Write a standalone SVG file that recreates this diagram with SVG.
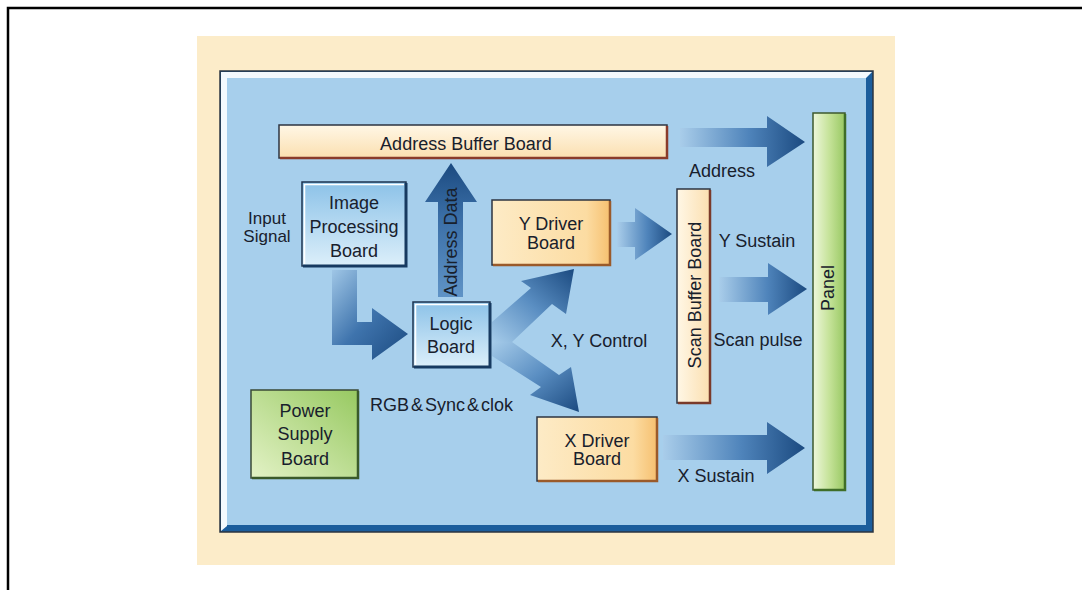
<svg xmlns="http://www.w3.org/2000/svg" width="1082" height="590" viewBox="0 0 1082 590">
<defs>
<style>
text{font-family:"Liberation Sans",Arial,sans-serif;font-size:18px;fill:#18202c;text-anchor:middle}
</style>
<linearGradient id="gH" x1="0" y1="0" x2="1" y2="0">
<stop offset="0" stop-color="#a9cdea"/><stop offset="0.55" stop-color="#4f84bb"/><stop offset="1" stop-color="#1b4a80"/>
</linearGradient>
<linearGradient id="gV" x1="0" y1="1" x2="0" y2="0">
<stop offset="0" stop-color="#5f93c6"/><stop offset="0.6" stop-color="#3a6ea6"/><stop offset="1" stop-color="#1b4a80"/>
</linearGradient>
<linearGradient id="gL" x1="0" y1="0" x2="1" y2="1">
<stop offset="0" stop-color="#9fc6e6"/><stop offset="0.5" stop-color="#3f74ad"/><stop offset="1" stop-color="#1b4a80"/>
</linearGradient>
<linearGradient id="gUp" x1="0" y1="1" x2="1" y2="0">
<stop offset="0" stop-color="#a5cbe9"/><stop offset="0.5" stop-color="#5a8ec2"/><stop offset="1" stop-color="#1b4a80"/>
</linearGradient>
<linearGradient id="gDn" x1="0" y1="0" x2="1" y2="1">
<stop offset="0" stop-color="#a5cbe9"/><stop offset="0.5" stop-color="#5a8ec2"/><stop offset="1" stop-color="#1b4a80"/>
</linearGradient>
<linearGradient id="gBlueBox" x1="0" y1="0" x2="0" y2="1">
<stop offset="0" stop-color="#8cc2e8"/><stop offset="1" stop-color="#dcefFA"/>
</linearGradient>
<linearGradient id="gCream" x1="0" y1="0" x2="0" y2="1">
<stop offset="0" stop-color="#fff7e6"/><stop offset="1" stop-color="#fbdfb0"/>
</linearGradient>
<linearGradient id="gCreamV" x1="0" y1="0" x2="1" y2="0">
<stop offset="0" stop-color="#fff7e6"/><stop offset="1" stop-color="#fbdfb0"/>
</linearGradient>
<linearGradient id="gOrange" x1="0" y1="0" x2="1" y2="0">
<stop offset="0" stop-color="#fdebc6"/><stop offset="0.8" stop-color="#fcdca2"/><stop offset="1" stop-color="#f6c070"/>
</linearGradient>
<linearGradient id="gGreen" x1="0" y1="1" x2="1" y2="0">
<stop offset="0" stop-color="#e3f2c6"/><stop offset="1" stop-color="#97c961"/>
</linearGradient>
<linearGradient id="gPanel" x1="0" y1="0" x2="1" y2="0">
<stop offset="0" stop-color="#eef7dc"/><stop offset="0.5" stop-color="#c6e39a"/><stop offset="1" stop-color="#98c862"/>
</linearGradient>
</defs>

<!-- frame -->
<path d="M8 590 V8 H1082" fill="none" stroke="#000" stroke-width="2.5"/>

<!-- background -->
<rect x="197" y="36" width="698" height="529" fill="#fcecc9"/>
<g id="board">
<rect x="220" y="71" width="653" height="461" fill="#1b5d9c" stroke="#2b3440" stroke-width="1.5"/>
<path d="M221 72 H872 L866 78 H227 V526 L221 531 Z" fill="#f4f9fd"/>
<rect x="227" y="78" width="639" height="447" fill="#a7cfec"/>
</g>

<!-- connectors -->
<g id="connectors">
<polygon points="680,128 767,128 767,116 805,142 767,167 767,147 680,147" fill="url(#gH)"/>
<polygon points="617,222 635,222 635,208 672,234 635,260 635,247 617,247" fill="url(#gH)"/>
<polygon points="719,277 768,277 768,263 807,289 768,315 768,302 719,302" fill="url(#gH)"/>
<polygon points="663,435 767,435 767,422 805,448 767,474 767,460 663,460" fill="url(#gH)"/>
<polygon points="438,297 438,202 425,202 451,163 477,202 463,202 463,297" fill="url(#gV)"/>
<polygon points="332,270 357,270 357,322 372,322 372,308 408,334 372,360 372,345 332,345" fill="url(#gL)"/>
<polygon points="492,322 531,288 521,281 574,269 566,314 552,304 512,342 492,342" fill="url(#gUp)"/>
<polygon points="492,342 512,342 559,375 571,367 579,412 530,395 541,387 492,356" fill="url(#gDn)"/>
</g>

<!-- nodes -->
<g id="address-buffer">
<rect x="279" y="125" width="388" height="33" fill="url(#gCream)" stroke="#2e3540" stroke-width="1.5"/>
<path d="M280 158 H667 V126" fill="none" stroke="#8a3b2b" stroke-width="2.5"/>
<text x="466" y="150">Address Buffer Board</text>
</g>

<g id="image-processing">
<rect x="302" y="182" width="104" height="84" fill="url(#gBlueBox)" stroke="#1d3550" stroke-width="1.5"/>
<path d="M303 266 H406 V183" fill="none" stroke="#173a60" stroke-width="3"/>
<path d="M304.5 264 V184.5 H404" fill="none" stroke="#ffffff" stroke-width="1.5"/>
<text x="354" y="209">Image</text>
<text x="354" y="233">Processing</text>
<text x="354" y="257">Board</text>
</g>

<g id="input-signal">
<text x="267" y="224" style="font-size:17px">Input</text>
<text x="267" y="242" style="font-size:17px">Signal</text>
</g>

<g id="address-data">
<text transform="translate(457 242) rotate(-90)">Address Data</text>
</g>

<g id="logic">
<rect x="413" y="302" width="77" height="65" fill="url(#gBlueBox)" stroke="#1d3550" stroke-width="1.5"/>
<path d="M414 367 H490 V303" fill="none" stroke="#173a60" stroke-width="3"/>
<path d="M415.5 365 V304.5 H488" fill="none" stroke="#ffffff" stroke-width="1.5"/>
<text x="451" y="330">Logic</text>
<text x="451" y="353">Board</text>
</g>

<g id="y-driver">
<rect x="492" y="200" width="118" height="65" fill="url(#gOrange)" stroke="#2e3540" stroke-width="1.5"/>
<path d="M493 265 H610 V201" fill="none" stroke="#9a5a2a" stroke-width="2.5"/>
<text x="551" y="230">Y Driver</text>
<text x="551" y="249">Board</text>
</g>

<g id="x-driver">
<rect x="537" y="417" width="120" height="64" fill="url(#gOrange)" stroke="#2e3540" stroke-width="1.5"/>
<path d="M538 481 H657 V418" fill="none" stroke="#9a5a2a" stroke-width="2.5"/>
<text x="597" y="447">X Driver</text>
<text x="597" y="465">Board</text>
</g>

<g id="scan-buffer">
<rect x="677" y="189" width="33" height="214" fill="url(#gCreamV)" stroke="#2e3540" stroke-width="1.5"/>
<path d="M678 403 H710 V190" fill="none" stroke="#7a3a2a" stroke-width="2.5"/>
<text transform="translate(701 295) rotate(-90)">Scan Buffer Board</text>
</g>

<g id="panel">
<rect x="813" y="113" width="32" height="377" fill="url(#gPanel)" stroke="#3e5a2e" stroke-width="1.5"/>
<path d="M814 490 H845 V114" fill="none" stroke="#3f6e28" stroke-width="2.5"/>
<text transform="translate(834 288) rotate(-90)">Panel</text>
</g>

<g id="power-supply">
<rect x="251" y="390" width="107" height="88" fill="url(#gGreen)" stroke="#3a4a36" stroke-width="1.5"/>
<path d="M252 478 H358 V391" fill="none" stroke="#3a5a2a" stroke-width="2.5"/>
<text x="305" y="417">Power</text>
<text x="305" y="440">Supply</text>
<text x="305" y="465">Board</text>
</g>

<g id="labels">
<text x="722" y="177">Address</text>
<text x="757" y="247">Y Sustain</text>
<text x="758" y="346">Scan pulse</text>
<text x="599" y="347">X, Y Control</text>
<text x="716" y="482">X Sustain</text>
<text x="370" y="411" style="text-anchor:start;word-spacing:-3px">RGB &amp; Sync &amp; clok</text>
</g>
</svg>
